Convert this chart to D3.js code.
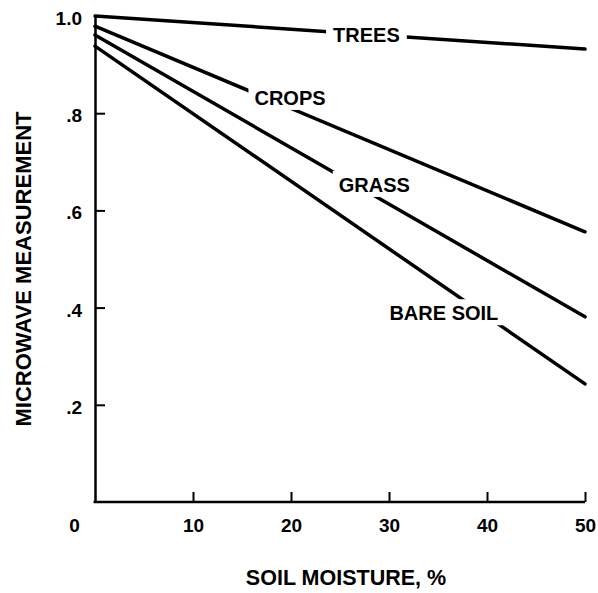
<!DOCTYPE html>
<html>
<head>
<meta charset="utf-8">
<script src="https://cdn.jsdelivr.net/npm/d3@7"></script>
<style>
  html, body { margin: 0; padding: 0; background: #fff; }
  svg { display: block; }
  text { font-family: "Liberation Sans", Arial, Helvetica, sans-serif; font-weight: bold; fill: #000; }
</style>
</head>
<body>
<svg id="chart" width="598" height="593"></svg>
<script>
// ---- data ----
const moisture = [0, 50];                 // soil moisture, %
const trees    = [1.000, 0.932];
const crops    = [0.979, 0.556];
const grass    = [0.961, 0.381];
const bareSoil = [0.938, 0.243];
const seriesNames = ["TREES", "CROPS", "GRASS", "BARE SOIL"];
const xTicks = [0, 10, 20, 30, 40, 50];
const yTicks = [0.2, 0.4, 0.6, 0.8, 1.0];
const yTickLabels = [".2", ".4", ".6", ".8", "1.0"];
// label anchors in data units (moisture %, measurement)
const labelX = [27.7, 19.9, 28.5, 35.6];
const labelY = [0.946, 0.817, 0.638, 0.374];

const seriesValues = [trees, crops, grass, bareSoil];

const svg = d3.select("#chart");
const x = d3.scaleLinear().domain([0, 50]).range([95, 585]);
const y = d3.scaleLinear().domain([0, 1]).range([502, 16]);

// axes
const xAxis = d3.axisBottom(x).tickValues(xTicks).tickSizeInner(-10).tickSizeOuter(0).tickPadding(17)
  .tickFormat(d3.format("d"));
const gx = svg.append("g").attr("transform", `translate(0,${y(0)})`).call(xAxis);
gx.select(".domain").attr("stroke-width", 2.5).attr("d", `M${x(0) - 1.5},0H${x(50)}`);
gx.selectAll(".tick line").attr("stroke-width", 2);
gx.selectAll(".tick text").attr("font-size", 19).attr("font-family", null).attr("font-weight", "bold");
gx.selectAll(".tick").filter(d => d === 0).select("text").attr("dx", -21);
gx.selectAll(".tick").filter(d => d === 0).select("line").remove();

const yAxis = d3.axisLeft(y).tickValues(yTicks).tickSizeInner(-10).tickSizeOuter(0).tickPadding(13)
  .tickFormat((d, i) => yTickLabels[i]);
const gy = svg.append("g").attr("transform", `translate(${x(0)},0)`).call(yAxis);
gy.select(".domain").attr("stroke-width", 2.5);
gy.selectAll(".tick line").attr("stroke-width", 2);
gy.selectAll(".tick text").attr("font-size", 19).attr("font-family", null).attr("font-weight", "bold").attr("dy", "0.45em");
gy.attr("font-family", null); gx.attr("font-family", null);

// lines
const line = d3.line().x((d, i) => x(moisture[i])).y(d => y(d));
svg.append("g").selectAll("path").data(seriesValues).join("path")
  .attr("d", d => line(d))
  .attr("fill", "none").attr("stroke", "#000").attr("stroke-width", 3.5).attr("stroke-linecap", "round");

// labels with white knockouts
const lg = svg.append("g");
seriesNames.forEach((name, i) => {
  const g = lg.append("g");
  const t = g.append("text")
    .attr("x", x(labelX[i])).attr("y", y(labelY[i]))
    .attr("text-anchor", "middle").attr("font-size", 20).text(name);
  const bb = t.node().getBBox();
  const padX = i === 0 ? 7 : 6, padY = 5;
  g.insert("rect", "text")
    .attr("x", bb.x - padX).attr("y", y(labelY[i]) - 15 - padY - 1)
    .attr("width", bb.width + 2 * padX).attr("height", 15 + 2 * padY + 1)
    .attr("fill", "#fff");
});

// axis titles
svg.append("text").attr("transform", `translate(31,269) rotate(-90)`)
  .attr("text-anchor", "middle").attr("font-size", 22).text("MICROWAVE MEASUREMENT");
svg.append("text").attr("x", 346).attr("y", 585)
  .attr("text-anchor", "middle").attr("font-size", 21.5).text("SOIL MOISTURE, %");
</script>
</body>
</html>
